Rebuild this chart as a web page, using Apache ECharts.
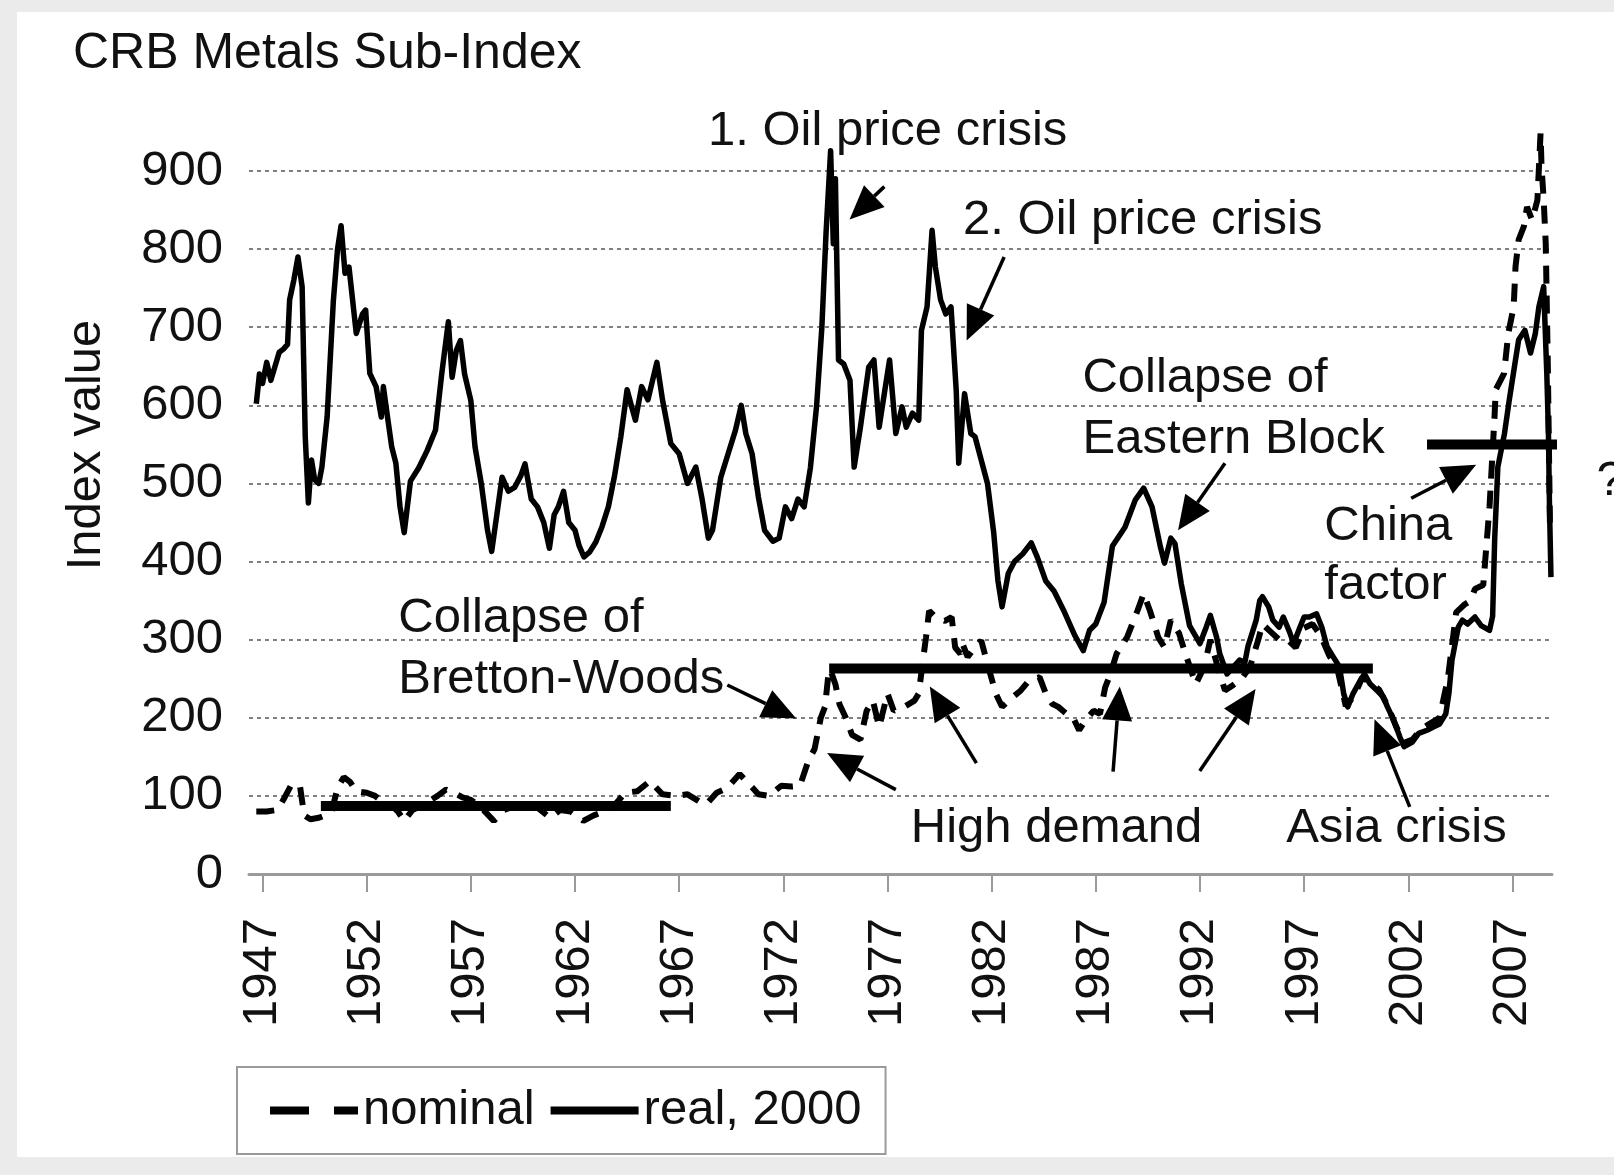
<!DOCTYPE html>
<html>
<head>
<meta charset="utf-8">
<title>CRB Metals Sub-Index</title>
<script src="https://cdn.jsdelivr.net/npm/echarts@6.0.0/dist/echarts.min.js"></script>
<style>
    html, body { margin: 0; padding: 0; background: #ebebeb; }
    #chart { width: 1614px; height: 1175px; }
</style>
</head>
<body>
<div id="chart"></div>
<script>
(function () {
    'use strict';

    // [year, index value]
    var realPoints = [
        [1946.7, 602], [1946.85, 640], [1947.0, 628], [1947.2, 655], [1947.4, 632], [1947.6, 650],
        [1947.8, 668], [1948.0, 672], [1948.2, 678], [1948.3, 735], [1948.5, 760], [1948.7, 790],
        [1948.9, 752], [1949.05, 560], [1949.2, 475], [1949.35, 530], [1949.5, 505], [1949.7, 500],
        [1949.85, 521], [1950.1, 585], [1950.4, 734], [1950.6, 800], [1950.77, 830], [1950.96, 769],
        [1951.15, 777], [1951.5, 692], [1951.8, 717], [1951.95, 722], [1952.15, 641], [1952.45, 624],
        [1952.7, 585], [1952.8, 624], [1953.0, 585], [1953.2, 547], [1953.4, 526], [1953.6, 470],
        [1953.8, 437], [1954.1, 503], [1954.5, 520], [1954.9, 542], [1955.3, 568], [1955.6, 640],
        [1955.92, 707], [1956.1, 636], [1956.3, 670], [1956.5, 683], [1956.7, 640], [1957.0, 606],
        [1957.2, 547], [1957.5, 500], [1957.8, 440], [1958.0, 413], [1958.3, 470], [1958.5, 508],
        [1958.8, 490], [1959.1, 495], [1959.4, 510], [1959.6, 525], [1959.9, 480], [1960.2, 470],
        [1960.5, 450], [1960.77, 417], [1961.0, 460], [1961.2, 470], [1961.45, 490], [1961.7, 450],
        [1962.0, 440], [1962.2, 420], [1962.43, 406], [1962.7, 412], [1963.0, 425], [1963.3, 445],
        [1963.6, 470], [1963.9, 510], [1964.2, 560], [1964.5, 620], [1964.7, 600], [1964.9, 581],
        [1965.2, 624], [1965.5, 607], [1965.93, 655], [1966.2, 607], [1966.6, 551], [1967.0, 538],
        [1967.4, 500], [1967.8, 521], [1968.1, 480], [1968.4, 430], [1968.6, 440], [1969.0, 508],
        [1969.35, 538], [1969.7, 568], [1969.98, 600], [1970.2, 564], [1970.5, 538], [1970.8, 483],
        [1971.1, 440], [1971.5, 426], [1971.8, 430], [1972.1, 470], [1972.4, 455], [1972.7, 480],
        [1973.0, 470], [1973.3, 520], [1973.6, 600], [1973.85, 700], [1974.05, 820], [1974.27, 926],
        [1974.4, 807], [1974.5, 890], [1974.65, 658], [1974.9, 653], [1975.2, 632], [1975.4, 521],
        [1975.7, 572], [1976.1, 649], [1976.35, 658], [1976.6, 572], [1976.9, 624], [1977.1, 658],
        [1977.4, 564], [1977.7, 598], [1977.9, 572], [1978.2, 590], [1978.5, 581], [1978.63, 696],
        [1978.9, 726], [1979.14, 824], [1979.3, 777], [1979.55, 735], [1979.8, 717], [1980.05, 726],
        [1980.3, 619], [1980.42, 526], [1980.7, 615], [1981.0, 564], [1981.2, 560], [1981.5, 530],
        [1981.8, 500], [1982.1, 437], [1982.3, 376], [1982.5, 342], [1982.8, 385], [1983.1, 400],
        [1983.5, 410], [1983.9, 424], [1984.2, 405], [1984.6, 375], [1985.0, 362], [1985.5, 335],
        [1986.0, 305], [1986.4, 286], [1986.7, 312], [1987.0, 320], [1987.4, 348], [1987.8, 420],
        [1988.4, 444], [1988.9, 479], [1989.3, 494], [1989.7, 470], [1990.1, 419], [1990.3, 398],
        [1990.6, 430], [1990.8, 423], [1991.1, 372], [1991.5, 318], [1992.0, 295], [1992.3, 316],
        [1992.5, 331], [1992.8, 303], [1992.95, 282], [1993.3, 256], [1993.6, 265], [1993.9, 274],
        [1994.15, 270], [1994.3, 291], [1994.5, 308], [1994.7, 325], [1994.87, 350], [1995.0, 355],
        [1995.3, 342], [1995.5, 325], [1995.8, 316], [1996.0, 329], [1996.3, 310], [1996.5, 295],
        [1996.8, 316], [1997.0, 329], [1997.25, 329], [1997.6, 333], [1997.85, 316], [1998.1, 291],
        [1998.4, 278], [1998.7, 265], [1998.9, 231], [1999.1, 214], [1999.35, 231], [1999.7, 248],
        [1999.9, 256], [2000.15, 244], [2000.5, 235], [2000.8, 227], [2001.0, 214], [2001.3, 197],
        [2001.6, 175], [2001.8, 163], [2002.2, 169], [2002.5, 180], [2002.9, 184], [2003.2, 188],
        [2003.5, 192], [2003.8, 205], [2003.95, 231], [2004.1, 274], [2004.4, 316], [2004.6, 325],
        [2004.85, 320], [2005.2, 329], [2005.5, 318], [2005.9, 312], [2006.05, 330], [2006.15, 430],
        [2006.3, 521], [2006.62, 564], [2006.85, 607], [2007.1, 650], [2007.3, 684], [2007.6, 696],
        [2007.87, 667], [2008.1, 692], [2008.27, 726], [2008.5, 752], [2008.57, 700], [2008.65, 641],
        [2008.73, 564], [2008.78, 470], [2008.85, 380]
    ];

    var nominalPoints = [
        [1946.7, 80], [1947.2, 80], [1947.7, 82], [1948.0, 95], [1948.4, 115], [1948.8, 112],
        [1949.0, 75], [1949.3, 70], [1949.7, 72], [1950.3, 78], [1950.6, 110], [1950.9, 124],
        [1951.2, 118], [1951.5, 106], [1952.0, 104], [1952.4, 100], [1952.8, 92], [1953.2, 88],
        [1953.5, 80], [1953.8, 68], [1954.2, 82], [1954.8, 90], [1955.4, 100], [1955.8, 108],
        [1956.2, 104], [1956.6, 98], [1957.0, 95], [1957.5, 85], [1958.1, 68], [1958.6, 82],
        [1959.2, 88], [1959.7, 92], [1960.2, 85], [1960.8, 72], [1961.3, 82], [1961.8, 80],
        [1962.4, 68], [1962.9, 75], [1963.4, 80], [1963.9, 88], [1964.4, 104], [1965.0, 106],
        [1965.6, 119], [1966.2, 102], [1966.9, 100], [1967.4, 102], [1967.9, 94], [1968.2, 89],
        [1968.4, 92], [1968.8, 104], [1969.3, 110], [1969.9, 128], [1970.5, 111], [1970.8, 102],
        [1971.3, 100], [1971.9, 113], [1972.4, 112], [1972.8, 113], [1973.2, 145], [1973.5, 160],
        [1973.8, 200], [1974.0, 214], [1974.15, 252], [1974.25, 262], [1974.5, 243], [1974.7, 217],
        [1975.0, 200], [1975.3, 178], [1975.7, 172], [1976.0, 209], [1976.3, 222], [1976.6, 188],
        [1977.0, 231], [1977.3, 209], [1977.8, 214], [1978.3, 222], [1978.5, 231], [1978.7, 273],
        [1978.85, 303], [1979.0, 337], [1979.3, 329], [1979.76, 324], [1980.08, 329], [1980.25, 290],
        [1980.5, 282], [1980.6, 295], [1980.85, 278], [1981.2, 290], [1981.5, 299], [1981.8, 269],
        [1982.2, 231], [1982.5, 214], [1983.0, 226], [1983.4, 235], [1983.8, 248], [1984.3, 252],
        [1984.6, 231], [1984.9, 218], [1985.2, 214], [1985.6, 205], [1985.9, 201], [1986.2, 184],
        [1986.5, 197], [1986.9, 209], [1987.2, 205], [1987.45, 239], [1987.7, 256], [1988.0, 282],
        [1988.5, 303], [1989.0, 337], [1989.3, 359], [1989.6, 337], [1990.0, 303], [1990.3, 290],
        [1990.6, 325], [1991.0, 308], [1991.3, 282], [1991.8, 243], [1992.2, 265], [1992.5, 300],
        [1992.8, 270], [1993.2, 235], [1993.6, 242], [1994.0, 250], [1994.4, 265], [1994.8, 300],
        [1995.0, 320], [1995.4, 310], [1995.8, 300], [1996.2, 300], [1996.6, 290], [1997.0, 315],
        [1997.4, 320], [1997.8, 305], [1998.2, 280], [1998.6, 262], [1999.0, 215], [1999.4, 228],
        [1999.8, 252], [2000.2, 244], [2000.6, 236], [2001.0, 216], [2001.4, 190], [2001.8, 168],
        [2002.2, 172], [2002.6, 185], [2003.0, 192], [2003.5, 200], [2003.9, 250], [2004.3, 335],
        [2004.7, 345], [2005.0, 350], [2005.2, 365], [2005.6, 370], [2005.9, 470], [2006.14, 585],
        [2006.2, 620], [2006.6, 641], [2006.8, 692], [2007.06, 726], [2007.15, 778], [2007.3, 812],
        [2007.55, 829], [2007.7, 854], [2007.95, 837], [2008.2, 863], [2008.35, 948], [2008.4, 905],
        [2008.5, 863], [2008.6, 807], [2008.7, 650], [2008.8, 450]
    ];

    // long-run average levels (thick bars)
    var levelStart = [1949.8, 1974.2, 2002.9];
    var levelEnd = [1966.6, 2000.3, 2011.8];
    var levelValue = [87, 263, 550];

    var yearTicks = [1947, 1952, 1957, 1962, 1967, 1972, 1977, 1982, 1987, 1992, 1997, 2002, 2007];

    var notes = [
        { text: '1. Oil price crisis', at: [1968.38, 951] },
        { text: '2. Oil price crisis', at: [1980.63, 837] },
        { text: 'Collapse of', at: [1986.36, 635] },
        { text: 'Eastern Block', at: [1986.36, 556] },
        { text: 'China', at: [1997.97, 445] },
        { text: 'factor', at: [1997.97, 369] },
        { text: 'Collapse of', at: [1953.52, 327] },
        { text: 'Bretton-Woods', at: [1953.52, 249] },
        { text: 'High demand', at: [1978.12, 58] },
        { text: 'Asia crisis', at: [1996.14, 58] },
        { text: '?', at: [2011.04, 502] }
    ];

    var arrows = [
        { from: [1976.85, 880], to: [1975.18, 838] },
        { from: [1982.6, 790], to: [1980.8, 683] },
        { from: [1993.2, 526], to: [1990.95, 440] },
        { from: [2002.14, 481], to: [2005.26, 524] },
        { from: [1969.31, 242], to: [1972.62, 199] },
        { from: [1977.4, 108], to: [1974.1, 155] },
        { from: [1981.27, 142], to: [1979.03, 240] },
        { from: [1987.83, 131], to: [1988.15, 240] },
        { from: [1991.99, 132], to: [1994.67, 237] },
        { from: [2002.07, 86], to: [2000.38, 198] }
    ];

    var FONT = "'Liberation Sans', Arial, sans-serif";
    var INK = '#111';

    var chart = echarts.init(document.getElementById('chart'), null, { renderer: 'canvas' });

    var levelSeries = levelValue.map(function (v, i) {
        return {
            name: 'level' + i,
            type: 'line',
            data: [[levelStart[i], v], [levelEnd[i], v]],
            symbol: 'none',
            clip: false,
            silent: true,
            z: 5,
            itemStyle: { color: '#000' },
            lineStyle: { color: '#000', width: 10, cap: 'butt' }
        };
    });

    chart.setOption({
        animation: false,
        backgroundColor: '#ebebeb',
        title: {
            text: 'CRB Metals Sub-Index',
            left: 68,
            top: 24,
            textStyle: { fontFamily: FONT, fontSize: 50, fontWeight: 'normal', color: INK }
        },
        legend: {
            data: [
                { name: 'nominal', lineStyle: { type: [39, 25], width: 8, cap: 'butt' } },
                { name: 'real, 2000', lineStyle: { width: 8 } }
            ],
            orient: 'horizontal',
            left: 237,
            top: 1067,
            itemWidth: 88,
            itemHeight: 20,
            itemGap: 12,
            padding: [19, 24, 19, 29],
            borderColor: '#9a9a9a',
            borderWidth: 2,
            backgroundColor: '#fff',
            selectedMode: false,
            itemStyle: { opacity: 0 },
            textStyle: { fontFamily: FONT, fontSize: 49, color: INK }
        },
        grid: { left: 249, right: 62, top: 171, bottom: 301 },
        xAxis: {
            type: 'value',
            min: 1946.35,
            max: 2008.9,
            axisLine: { lineStyle: { color: '#9a9a9a', width: 3 } },
            axisTick: {
                show: true,
                customValues: yearTicks,
                length: 18,
                lineStyle: { color: '#9a9a9a', width: 2 }
            },
            axisLabel: {
                customValues: yearTicks,
                rotate: 90,
                margin: 44,
                fontFamily: FONT,
                fontSize: 49,
                color: INK,
                formatter: function (v) { return String(Math.round(v)); }
            },
            splitLine: { show: false }
        },
        yAxis: {
            type: 'value',
            min: 0,
            max: 900,
            interval: 100,
            axisLine: { show: false },
            axisTick: { show: false },
            axisLabel: { margin: 26, fontFamily: FONT, fontSize: 49, color: INK },
            splitLine: { lineStyle: { color: '#808080', width: 2, type: [4, 4] } }
        },
        series: [
            {
                name: 'nominal',
                type: 'line',
                data: nominalPoints,
                symbol: 'none',
                clip: false,
                silent: true,
                z: 3,
                itemStyle: { color: '#000' },
                lineStyle: { color: '#000', width: 6, type: [18, 12], cap: 'butt' }
            },
            {
                name: 'real, 2000',
                type: 'line',
                data: realPoints,
                symbol: 'none',
                clip: false,
                silent: true,
                z: 4,
                itemStyle: { color: '#000' },
                lineStyle: { color: '#000', width: 5.5, join: 'round' }
            }
        ].concat(levelSeries)
    });

    var px = function (pt) {
        return chart.convertToPixel({ gridIndex: 0 }, pt);
    };

    var graphics = [
        {
            type: 'rect',
            silent: true,
            z: -100,
            shape: { x: 17, y: 12, width: 1597, height: 1145 },
            style: { fill: '#fff' }
        },
        {
            type: 'text',
            x: 86,
            y: 445,
            rotation: Math.PI / 2,
            silent: true,
            style: {
                text: 'Index value', fontFamily: FONT, fontSize: 49, fill: INK,
                textAlign: 'center', textVerticalAlign: 'middle'
            }
        }
    ];

    notes.forEach(function (n) {
        var p = px(n.at);
        graphics.push({
            type: 'text',
            x: p[0],
            y: p[1],
            silent: true,
            z: 10,
            style: {
                text: n.text, fontFamily: FONT, fontSize: 49, fill: INK,
                textAlign: 'left', textVerticalAlign: 'middle'
            }
        });
    });

    var HEAD_LEN = 34, HEAD_HALF = 15;
    arrows.forEach(function (a) {
        var s = px(a.from), t = px(a.to);
        var dx = t[0] - s[0], dy = t[1] - s[1];
        var len = Math.sqrt(dx * dx + dy * dy);
        var ux = dx / len, uy = dy / len;
        var headLen = Math.min(HEAD_LEN, len * 0.85);
        var bx = t[0] - ux * headLen, by = t[1] - uy * headLen;
        graphics.push({
            type: 'line',
            silent: true,
            z: 10,
            shape: { x1: s[0], y1: s[1], x2: bx, y2: by },
            style: { stroke: '#000', lineWidth: 3.5 }
        });
        graphics.push({
            type: 'polygon',
            silent: true,
            z: 10,
            shape: {
                points: [
                    [t[0], t[1]],
                    [bx - uy * HEAD_HALF, by + ux * HEAD_HALF],
                    [bx + uy * HEAD_HALF, by - ux * HEAD_HALF]
                ]
            },
            style: { fill: '#000' }
        });
    });

    chart.setOption({ graphic: graphics });
})();
</script>
</body>
</html>
